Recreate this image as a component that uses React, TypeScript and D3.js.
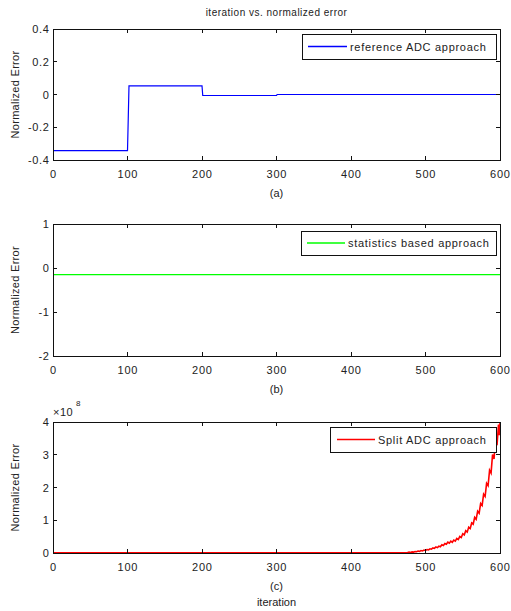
import React from "react";
import * as d3 from "d3";

// ---- data ----
const iterTicks = [0, 100, 200, 300, 400, 500, 600];

const refIter = [0, 100, 101, 102, 200, 201, 300, 301, 600];
const refErr = [-0.343, -0.343, -0.148, 0.053, 0.053, -0.006, -0.006, 0, 0];
const refTicks = [-0.4, -0.2, 0, 0.2, 0.4];

const statIter = [0, 600];
const statErr = [-0.15, -0.15];
const statTicks = [-2, -1, 0, 1];

// split ADC error, in units of 1e8
const splitIter = [
  0, 470, 476, 478, 480, 482, 484, 486, 488, 490, 492, 494, 496, 498, 500, 502, 504, 506, 508,
  510, 512, 514, 516, 518, 520, 522, 524, 526, 528, 530, 532, 534, 536, 538, 540, 542,
  544, 546, 548, 550, 552, 554, 556, 558, 560, 562, 564, 566, 568, 570, 572, 574, 576,
  578, 580, 582, 584, 586, 588, 590, 592, 594, 596, 598, 599, 600,
];
const splitErr = [
  0.004, 0.008, 0.012, 0.028, 0.014, 0.034, 0.026, 0.047, 0.039, 0.061, 0.051, 0.076, 0.064,
  0.09, 0.077, 0.106, 0.098, 0.129, 0.117, 0.153, 0.139, 0.182, 0.164, 0.21, 0.192, 0.249,
  0.23, 0.291, 0.268, 0.334, 0.302, 0.365, 0.327, 0.394, 0.362, 0.447, 0.411, 0.503, 0.474,
  0.588, 0.55, 0.68, 0.637, 0.79, 0.747, 0.917, 0.879, 1.086, 1.029, 1.277, 1.217, 1.51,
  1.452, 1.796, 1.725, 2.125, 2.054, 2.528, 2.44, 3.005, 2.87, 3.5, 3.29, 3.92, 3.6, 3.98,
];
const splitTicks = [0, 1, 2, 3, 4];

const W = 511;
const H = 611;
const left = 53;
const right = 500;
const font = "'Liberation Sans', Arial, Helvetica, sans-serif";
const textColor = "#222";
const spacing = 0.7;

type PanelProps = {
  top: number;
  bottom: number;
  yDomain: [number, number];
  yTicks: number[];
  yFormat: (v: number) => string;
  xs: number[];
  ys: number[];
  color: string;
  width: number;
  legend: string;
  legendBox: [number, number, number, number];
  legendLine: [number, number];
  caption: string;
};

function Panel(p: PanelProps) {
  const x = d3.scaleLinear().domain([0, 600]).range([left, right]);
  const y = d3.scaleLinear().domain(p.yDomain).range([p.bottom, p.top]);
  const line = d3
    .line<number>()
    .x((_, i) => x(p.xs[i]))
    .y((d) => y(d));
  const tl = 4;
  const [lx0, ly0, lx1, ly1] = p.legendBox;
  const ly = (ly0 + ly1) / 2;
  const midY = (p.top + p.bottom) / 2;
  return (
    <g>
      <rect x={left} y={p.top} width={right - left} height={p.bottom - p.top} fill="#fff" />
      <path d={line(p.ys) || ""} fill="none" stroke={p.color} strokeWidth={p.width} strokeLinejoin="miter" />
      {/* box */}
      <rect
        x={left}
        y={p.top}
        width={right - left}
        height={p.bottom - p.top}
        fill="none"
        stroke="#111"
        strokeWidth={1}
        shapeRendering="crispEdges"
      />
      {/* x ticks */}
      {iterTicks.map((t) => (
        <g key={"x" + t}>
          <line x1={x(t)} x2={x(t)} y1={p.bottom} y2={p.bottom - tl} stroke="#111" shapeRendering="crispEdges" />
          <line x1={x(t)} x2={x(t)} y1={p.top} y2={p.top + tl} stroke="#111" shapeRendering="crispEdges" />
          <text
            x={x(t) + spacing / 2}
            y={p.bottom + 18}
            textAnchor="middle"
            fontSize={11}
            letterSpacing={spacing}
            fontFamily={font}
            fill={textColor}
          >
            {t}
          </text>
        </g>
      ))}
      {/* y ticks */}
      {p.yTicks.map((t) => (
        <g key={"y" + t}>
          <line x1={left} x2={left + tl} y1={y(t)} y2={y(t)} stroke="#111" shapeRendering="crispEdges" />
          <line x1={right} x2={right - tl} y1={y(t)} y2={y(t)} stroke="#111" shapeRendering="crispEdges" />
          <text
            x={left - 4 + spacing}
            y={y(t) + 4}
            textAnchor="end"
            fontSize={11}
            letterSpacing={spacing}
            fontFamily={font}
            fill={textColor}
          >
            {p.yFormat(t)}
          </text>
        </g>
      ))}
      <text
        transform={`translate(19,${midY}) rotate(-90)`}
        textAnchor="middle"
        fontSize={11}
        letterSpacing={0.3}
        fontFamily={font}
        fill={textColor}
      >
        Normalized Error
      </text>
      <text
        x={(left + right) / 2}
        y={p.bottom + 37}
        textAnchor="middle"
        fontSize={11}
        fontFamily={font}
        fill={textColor}
      >
        {p.caption}
      </text>
      {/* legend */}
      <rect x={lx0} y={ly0} width={lx1 - lx0} height={ly1 - ly0} fill="#fff" stroke="#111" shapeRendering="crispEdges" />
      <line x1={p.legendLine[0]} x2={p.legendLine[1]} y1={ly} y2={ly} stroke={p.color} strokeWidth={1.3} />
      <text
        x={p.legendLine[1] + 3}
        y={ly + 4}
        fontSize={11}
        letterSpacing={spacing}
        fontFamily={font}
        fill={textColor}
      >
        {p.legend}
      </text>
    </g>
  );
}

export default function App() {
  const fmtA = (v: number) => (v === 0 ? "0" : d3.format(".1f")(v).replace("−", "-"));
  const fmtInt = (v: number) => String(v);
  return (
    <svg width={W} height={H} style={{ display: "block", position: "absolute", left: 0, top: 0 }}>
      <rect width={W} height={H} fill="#fff" />
      <text
        x={(left + right) / 2}
        y={16}
        textAnchor="middle"
        fontSize={10}
        letterSpacing={0.5}
        fontFamily={font}
        fill={textColor}
      >
        iteration vs. normalized error
      </text>
      <Panel
        top={29}
        bottom={160}
        yDomain={[-0.4, 0.4]}
        yTicks={refTicks}
        yFormat={fmtA}
        xs={refIter}
        ys={refErr}
        color="#0000ff"
        width={1.2}
        legend="reference ADC approach"
        legendBox={[302, 34, 496, 59]}
        legendLine={[308, 347]}
        caption="(a)"
      />
      <Panel
        top={224}
        bottom={356}
        yDomain={[-2, 1]}
        yTicks={statTicks}
        yFormat={fmtInt}
        xs={statIter}
        ys={statErr}
        color="#00ff00"
        width={1.2}
        legend="statistics based approach"
        legendBox={[301, 231, 496, 255]}
        legendLine={[307, 345]}
        caption="(b)"
      />
      <Panel
        top={422}
        bottom={553}
        yDomain={[0, 4]}
        yTicks={splitTicks}
        yFormat={fmtInt}
        xs={splitIter}
        ys={splitErr}
        color="#ff0000"
        width={1.6}
        legend="Split ADC approach"
        legendBox={[330, 427, 496, 452]}
        legendLine={[337, 375]}
        caption="(c)"
      />
      <text x={53} y={416} fontSize={11} letterSpacing={0.5} fontFamily={font} fill={textColor}>
        ×10
      </text>
      <text x={76} y={406} fontSize={8} fontFamily={font} fill={textColor}>
        8
      </text>
      <text x={(left + right) / 2} y={606} textAnchor="middle" fontSize={11} fontFamily={font} fill={textColor}>
        iteration
      </text>
    </svg>
  );
}
